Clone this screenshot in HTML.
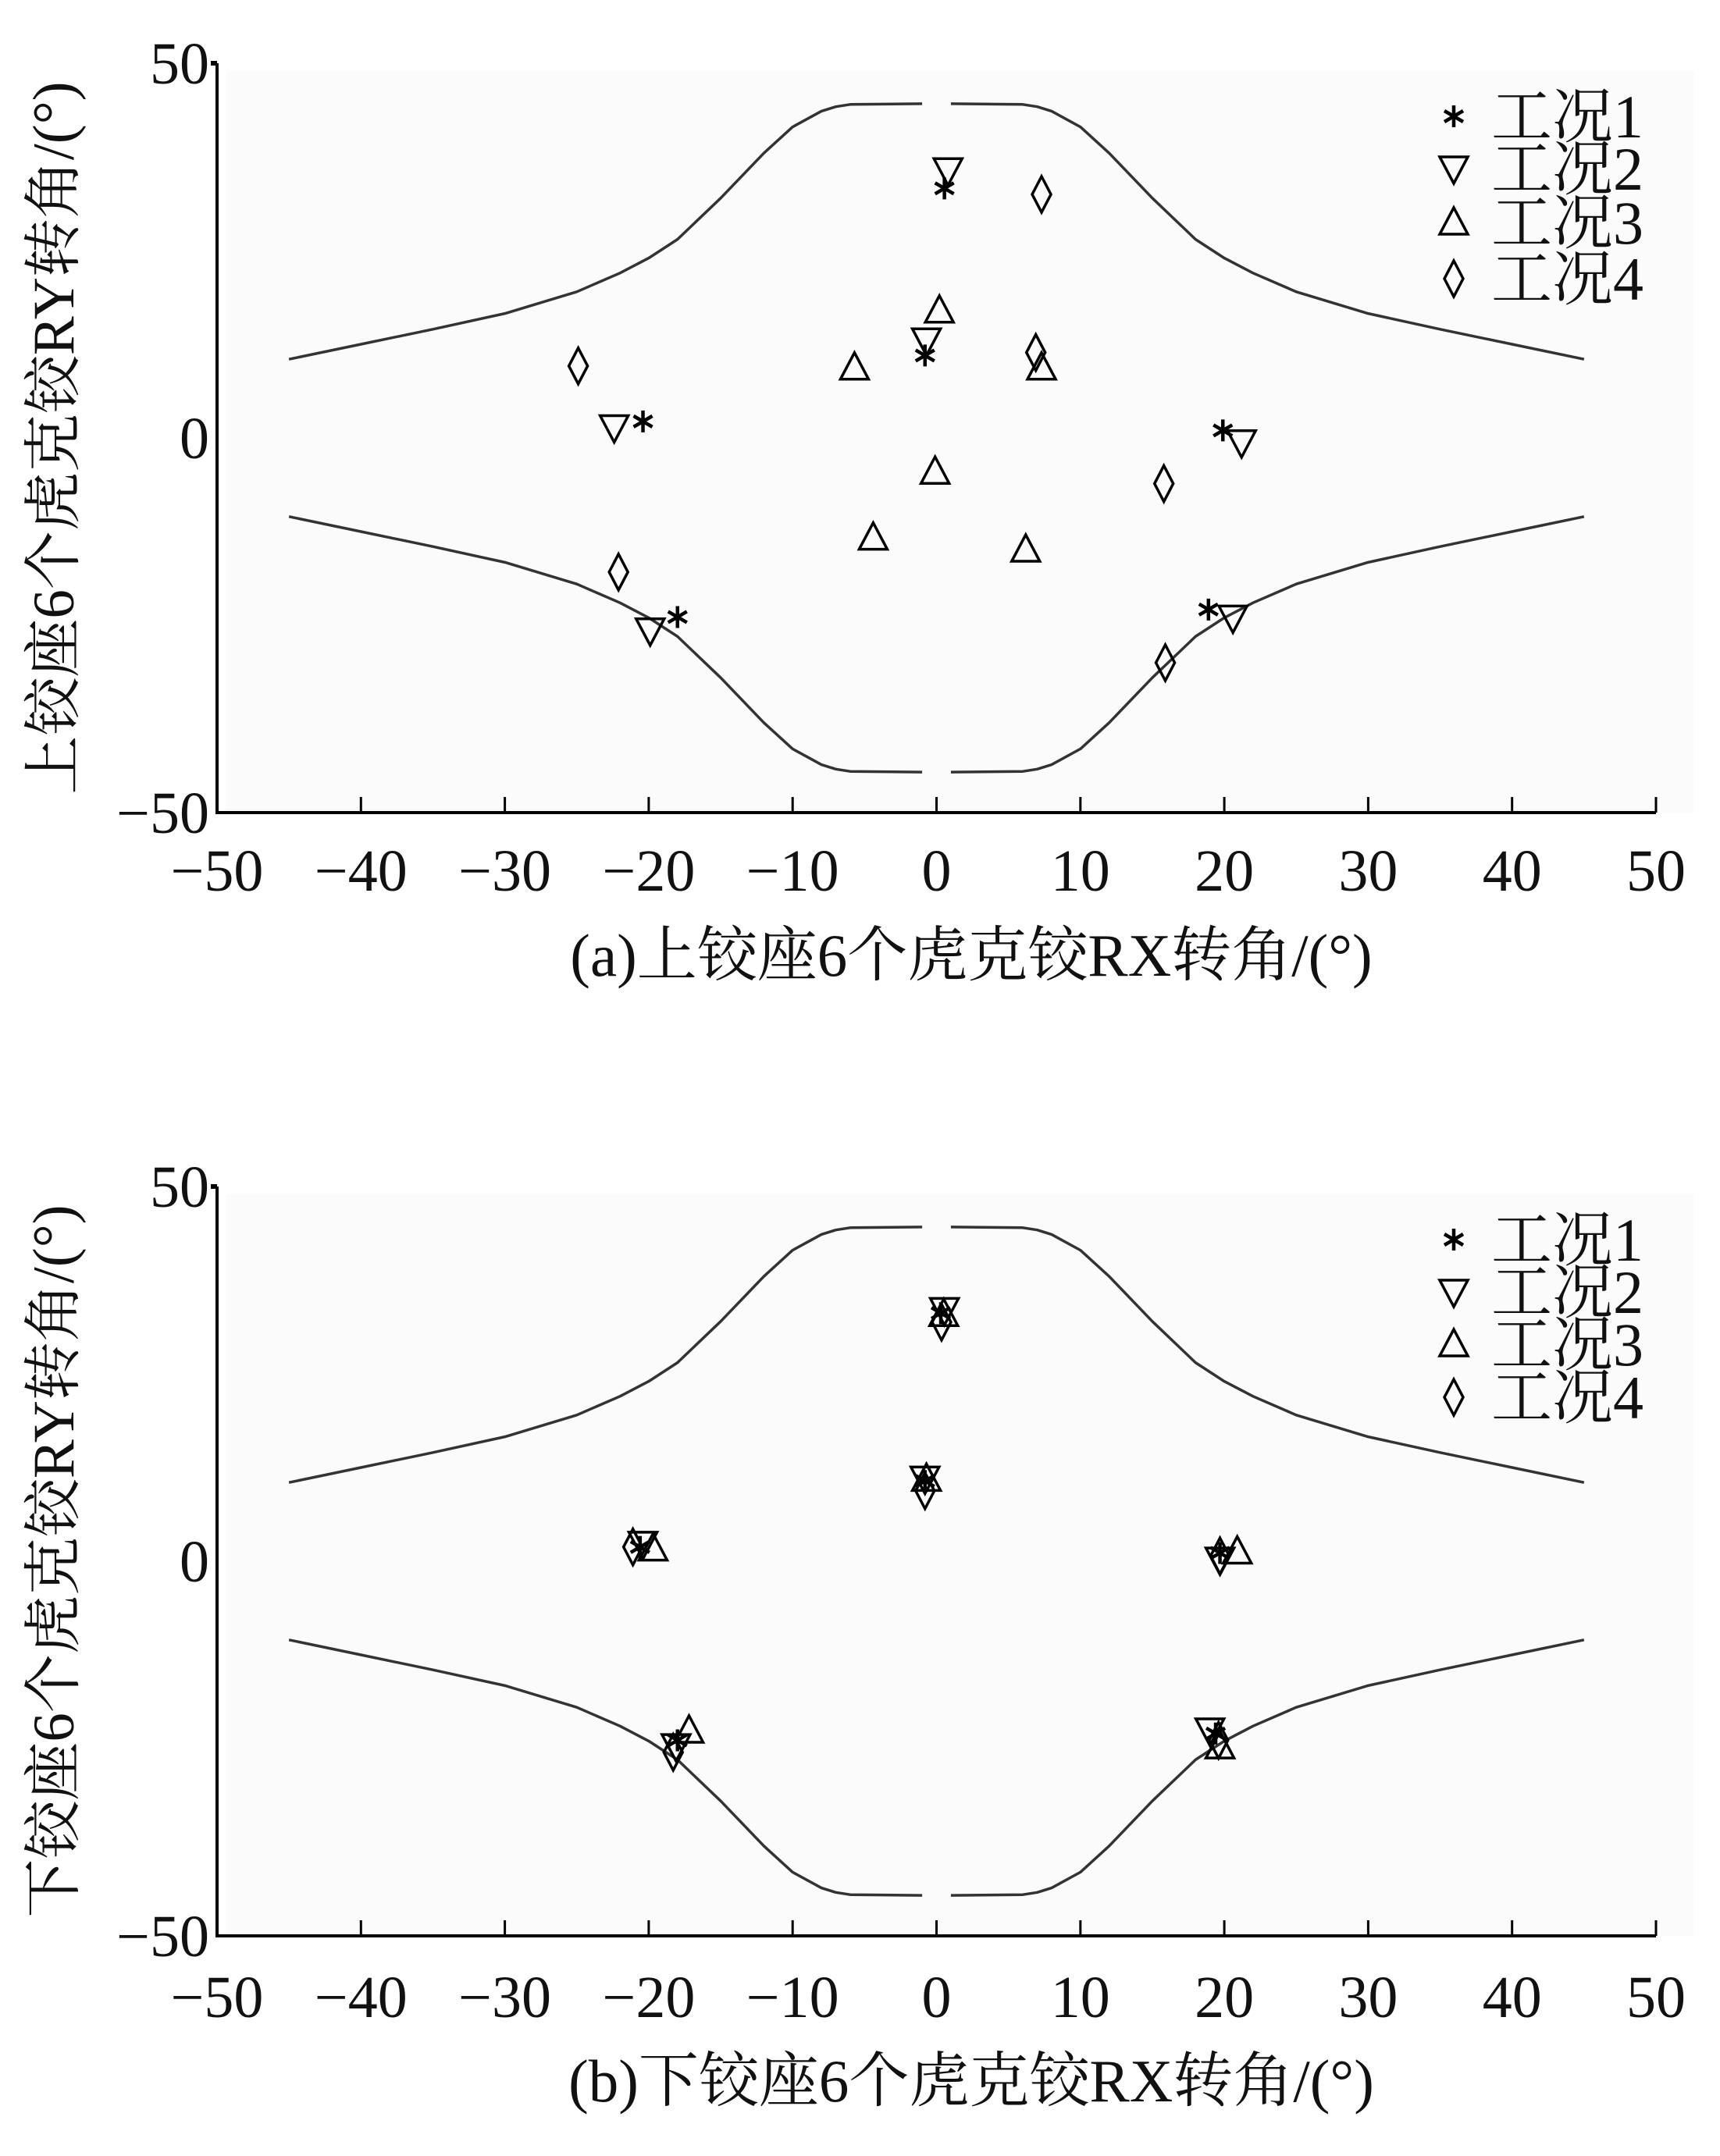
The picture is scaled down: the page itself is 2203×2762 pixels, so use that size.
<!DOCTYPE html>
<html><head><meta charset="utf-8">
<style>
html,body{margin:0;padding:0;background:#fff;}
svg{display:block;}
text{font-family:"Liberation Serif","Noto Serif CJK SC",serif;fill:#111;}
</style></head>
<body>
<svg id="c" width="2203" height="2762" viewBox="0 0 2203 2762" xmlns="http://www.w3.org/2000/svg"></svg>
<script>
const xTicks=[-50,-40,-30,-20,-10,0,10,20,30,40,50];
const yTicks=[50,0,-50];
const seriesNames=["工况1","工况2","工况3","工况4"];
const boundX=[-45,-40,-35,-30,-25,-22,-20,-18,-15,-12,-10,-8,-7,-6,-1];
const boundY=[10.5,12.5,14.5,16.6,19.5,22,24,26.5,32,38,41.5,43.6,44.2,44.5,44.6];
// chart a
const aS1x=[0.55,-0.8,-20.4,-18,19.9,18.9], aS1y=[33.3,11,2.2,-23.9,1,-22.9];
const aS2x=[0.8,-0.7,-22.4,-19.9,21.2,20.6], aS2y=[35.7,13,1.4,-25.7,-0.6,-24];
const aS3x=[0.2,-5.7,7.3,-0.1,-4.4,6.2], aS3y=[17,9.4,9.4,-4.5,-13.3,-14.9];
const aS4x=[7.3,-24.9,6.9,-22.1,15.8,15.9], aS4y=[32.5,9.6,11.4,-17.9,-6.1,-30];
// chart b
const bS1x=[0.3,-0.8,-20.6,-18,19.7,19.4], bS1y=[33.1,10.7,1.9,-23.9,1.1,-23];
const bS2x=[0.55,-0.8,-20.4,-18.1,19.7,19], bS2y=[33.5,11,2.3,-24.7,0.2,-22.6];
const bS3x=[0.5,-0.7,-19.7,-17.2,20.9,19.7], bS3y=[33,11,1.7,-22.6,1.3,-24.7];
const bS4x=[0.35,-0.8,-21.1,-18.3,19.7,19.6], bS4y=[31.9,9.4,1.9,-25.5,0.7,-23.9];

const NS="http://www.w3.org/2000/svg";
const svg=document.getElementById('c');
function mk(tag,attrs,parent){const e=document.createElementNS(NS,tag);for(const k in attrs)e.setAttribute(k,attrs[k]);(parent||svg).appendChild(e);return e;}

function chart(cfg){
  const g=mk('g',{});
  
  
  const X=v=>278+(v+50)*18.43;
  const Y=v=>cfg.y0-v*(cfg.y50)/50;
  mk('rect',{x:290,y:Y(50)+10,width:1880,height:Y(-50)-Y(50)-10,fill:'#fbfbfb'},g);
  const ax=mk('path',{d:`M${X(-50)},${Y(50)} L${X(-50)},${Y(-50)} L${X(50)},${Y(-50)}`,stroke:'#000','stroke-width':4,fill:'none'},g);
  
  
  mk('line',{x1:X(-50)-8,y1:Y(50),x2:X(-50),y2:Y(50),stroke:'#000','stroke-width':6},g);
  xTicks.forEach(t=>{
    mk('line',{x1:X(t),y1:Y(-50),x2:X(t),y2:Y(-50)-20,stroke:'#000','stroke-width':3},g);
    const tx=mk('text',{x:X(t),y:Y(-50)+cfg.xl,'font-size':76,'text-anchor':'middle'},g);
    tx.textContent=(t<0?'\u2212'+(-t):String(t));
    
    
  });
  yTicks.forEach(t=>{
    const tx=mk('text',{x:268,y:Y(t)+26,'font-size':76,'text-anchor':'end'},g);
    tx.textContent=(t<0?'\u2212'+(-t):String(t));
    
    
  });
  [[1,1],[-1,1],[1,-1],[-1,-1]].forEach(([sx,sy])=>{
    const d=boundX.map((bx,i)=>(i?'L':'M')+X(sx*bx)+','+Y(sy*boundY[i])).join(' ');
    const p=mk('path',{d:d,stroke:'#333','stroke-width':3.5,fill:'none','stroke-linejoin':'round'},g);
    
    
  });
  function marker(type,cx,cy,parent){
    let e;
    if(type===0){
      e=mk('path',{d:`M${cx},${cy-14}V${cy+14}M${cx-12},${cy-7}L${cx+12},${cy+7}M${cx-12},${cy+7}L${cx+12},${cy-7}`,stroke:'#000','stroke-width':4.5,fill:'none'},parent);
    }else if(type===1){
      e=mk('path',{d:`M${cx-18},${cy-15}H${cx+18}L${cx},${cy+19}Z`,stroke:'#000','stroke-width':3.5,fill:'none'},parent);
    }else if(type===2){
      e=mk('path',{d:`M${cx},${cy-19}L${cx+18},${cy+15}H${cx-18}Z`,stroke:'#000','stroke-width':3.5,fill:'none'},parent);
    }else{
      e=mk('path',{d:`M${cx},${cy-23}L${cx+12},${cy}L${cx},${cy+23}L${cx-12},${cy}Z`,stroke:'#000','stroke-width':3.5,fill:'none'},parent);
    }
    return e;
  }
  cfg.series.forEach((s,si)=>{
    s[0].forEach((vx,i)=>{
      const m=marker(si,X(vx),Y(s[1][i]),g);
      
      
    });
  });
  seriesNames.forEach((n,i)=>{
    const ly=cfg.leg[i];
    const m=marker(i,1862,ly,g);
    
    
    const t=mk('text',{x:1910,y:ly+27,'font-size':78},g);
    t.textContent=n;
    
    
  });
  const xt=mk('text',{x:1244,y:cfg.xt,'font-size':77,'text-anchor':'middle'},g);
  xt.textContent=cfg.xtitle;
  
  
  const yt=mk('text',{x:0,y:0,'font-size':75,'text-anchor':'middle',transform:`translate(94,${cfg.y0}) rotate(-90)`},g);
  yt.textContent=cfg.ytitle;
  
  
}
chart({name:'chart-a',y0:561,y50:480,xl:100,series:[[aS1x,aS1y],[aS2x,aS2y],[aS3x,aS3y],[aS4x,aS4y]],
  leg:[149,216,285,357],xt:1250,xtitle:'(a)上铰座6个虎克铰RX转角/(°)',ytitle:'上铰座6个虎克铰RY转角/(°)'});
chart({name:'chart-b',y0:2000,y50:480,xl:104,series:[[bS1x,bS1y],[bS2x,bS2y],[bS3x,bS3y],[bS4x,bS4y]],
  leg:[1588,1655,1722,1790],xt:2692,xtitle:'(b)下铰座6个虎克铰RX转角/(°)',ytitle:'下铰座6个虎克铰RY转角/(°)'});
</script>
</body></html>
